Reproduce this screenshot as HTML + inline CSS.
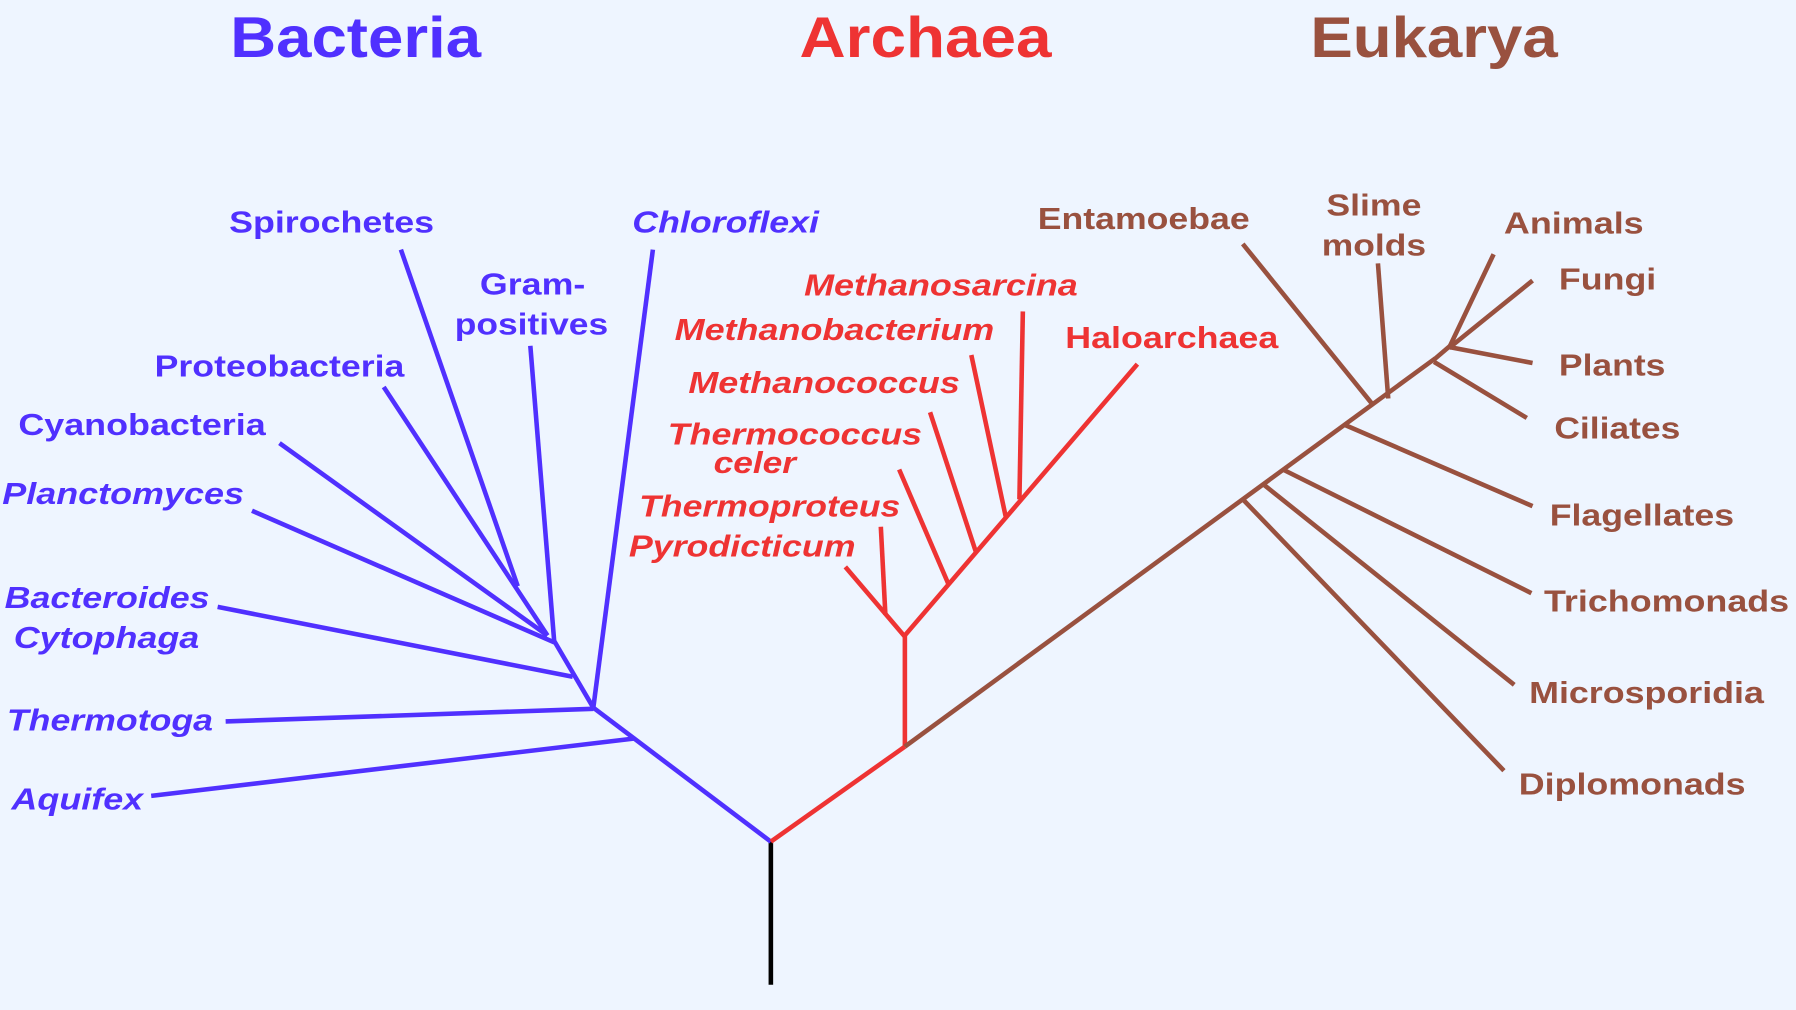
<!DOCTYPE html>
<html><head><meta charset="utf-8"><style>
html,body{margin:0;padding:0;background:#eef5ff;}
svg{display:block;}
text{font-family:"Liberation Sans",Arial,sans-serif;font-weight:bold;}
</style></head><body>
<svg width="1796" height="1010" viewBox="0 0 1568 882" preserveAspectRatio="none" xmlns="http://www.w3.org/2000/svg">
<rect width="1568" height="882" fill="#eef5ff"/>
<g stroke-width="4" stroke-linecap="butt" fill="none">
<line x1="673" y1="733" x2="673" y2="860" stroke="#000"/>
<g stroke="#5030ff">
<line x1="673" y1="735" x2="518" y2="618"/>
<line x1="553" y1="645" x2="132" y2="695"/>
<line x1="518" y1="619" x2="197" y2="630"/>
<line x1="518" y1="618" x2="484" y2="560"/>
<line x1="500" y1="591" x2="190" y2="530"/>
<line x1="484" y1="561" x2="220" y2="446"/>
<line x1="478" y1="555" x2="244" y2="387"/>
<line x1="478" y1="555" x2="335" y2="338"/>
<line x1="452" y1="512" x2="350" y2="218"/>
<line x1="484" y1="562" x2="463" y2="302"/>
<line x1="518" y1="618" x2="570" y2="218"/>
</g>
<g stroke="#ee3333">
<line x1="673" y1="735" x2="790" y2="652"/>
<line x1="790" y1="652" x2="790" y2="555"/>
<line x1="790" y1="556" x2="738" y2="495"/>
<line x1="773" y1="537" x2="769" y2="460"/>
<line x1="789" y1="556" x2="993" y2="318"/>
<line x1="828" y1="510" x2="785" y2="410"/>
<line x1="852" y1="482" x2="812" y2="360"/>
<line x1="878" y1="451" x2="848" y2="310"/>
<line x1="890" y1="436" x2="893" y2="272"/>
</g>
<g stroke="#99513f">
<line x1="790" y1="652" x2="1253" y2="313"/>
<line x1="1252" y1="314" x2="1266" y2="302"/>
<line x1="1265" y1="304" x2="1304" y2="222"/>
<line x1="1265" y1="304" x2="1338" y2="245"/>
<line x1="1265" y1="303" x2="1338" y2="317"/>
<line x1="1252" y1="316" x2="1333" y2="365"/>
<line x1="1174" y1="371" x2="1338" y2="442"/>
<line x1="1120" y1="410" x2="1337" y2="518"/>
<line x1="1103" y1="423" x2="1322" y2="598"/>
<line x1="1085" y1="436" x2="1313" y2="673"/>
<line x1="1085" y1="213" x2="1199" y2="354"/>
<line x1="1203" y1="230" x2="1212" y2="348"/>
</g>
</g>
<g font-size="50">
<text x="201" y="50" fill="#5030ff" textLength="219" lengthAdjust="spacingAndGlyphs">Bacteria</text>
<text x="698" y="50" fill="#ee3333" textLength="220" lengthAdjust="spacingAndGlyphs">Archaea</text>
<text x="1144" y="50" fill="#99513f" textLength="216" lengthAdjust="spacingAndGlyphs">Eukarya</text>
</g>
<g font-size="27" fill="#5030ff">
<text x="200" y="203" textLength="179" lengthAdjust="spacingAndGlyphs">Spirochetes</text>
<text x="552" y="203" font-style="italic" textLength="163" lengthAdjust="spacingAndGlyphs">Chloroflexi</text>
<text x="419" y="257" textLength="92" lengthAdjust="spacingAndGlyphs">Gram-</text>
<text x="397" y="292" textLength="134" lengthAdjust="spacingAndGlyphs">positives</text>
<text x="135" y="329" textLength="218" lengthAdjust="spacingAndGlyphs">Proteobacteria</text>
<text x="16" y="380" textLength="216" lengthAdjust="spacingAndGlyphs">Cyanobacteria</text>
<text x="2" y="440" font-style="italic" textLength="211" lengthAdjust="spacingAndGlyphs">Planctomyces</text>
<text x="4" y="531" font-style="italic" textLength="179" lengthAdjust="spacingAndGlyphs">Bacteroides</text>
<text x="12" y="566" font-style="italic" textLength="162" lengthAdjust="spacingAndGlyphs">Cytophaga</text>
<text x="6" y="638" font-style="italic" textLength="180" lengthAdjust="spacingAndGlyphs">Thermotoga</text>
<text x="10" y="707" font-style="italic" textLength="115" lengthAdjust="spacingAndGlyphs">Aquifex</text>
</g>
<g font-size="27" fill="#ee3333" font-style="italic">
<text x="702" y="258" textLength="239" lengthAdjust="spacingAndGlyphs">Methanosarcina</text>
<text x="589" y="297" textLength="279" lengthAdjust="spacingAndGlyphs">Methanobacterium</text>
<text x="601" y="343" textLength="237" lengthAdjust="spacingAndGlyphs">Methanococcus</text>
<text x="583" y="388" textLength="222" lengthAdjust="spacingAndGlyphs">Thermococcus</text>
<text x="623" y="413" textLength="72" lengthAdjust="spacingAndGlyphs">celer</text>
<text x="558" y="451" textLength="228" lengthAdjust="spacingAndGlyphs">Thermoproteus</text>
<text x="549" y="486" textLength="198" lengthAdjust="spacingAndGlyphs">Pyrodicticum</text>
<text x="930" y="304" font-style="normal" textLength="186" lengthAdjust="spacingAndGlyphs">Haloarchaea</text>
</g>
<g font-size="27" fill="#99513f">
<text x="906" y="200" textLength="185" lengthAdjust="spacingAndGlyphs">Entamoebae</text>
<text x="1158" y="188" textLength="83" lengthAdjust="spacingAndGlyphs">Slime</text>
<text x="1154" y="223" textLength="91" lengthAdjust="spacingAndGlyphs">molds</text>
<text x="1313" y="204" textLength="122" lengthAdjust="spacingAndGlyphs">Animals</text>
<text x="1361" y="253" textLength="85" lengthAdjust="spacingAndGlyphs">Fungi</text>
<text x="1361" y="328" textLength="93" lengthAdjust="spacingAndGlyphs">Plants</text>
<text x="1357" y="383" textLength="110" lengthAdjust="spacingAndGlyphs">Ciliates</text>
<text x="1353" y="459" textLength="161" lengthAdjust="spacingAndGlyphs">Flagellates</text>
<text x="1348" y="534" textLength="214" lengthAdjust="spacingAndGlyphs">Trichomonads</text>
<text x="1335" y="614" textLength="205" lengthAdjust="spacingAndGlyphs">Microsporidia</text>
<text x="1326" y="694" textLength="198" lengthAdjust="spacingAndGlyphs">Diplomonads</text>
</g>
</svg>
</body></html>
